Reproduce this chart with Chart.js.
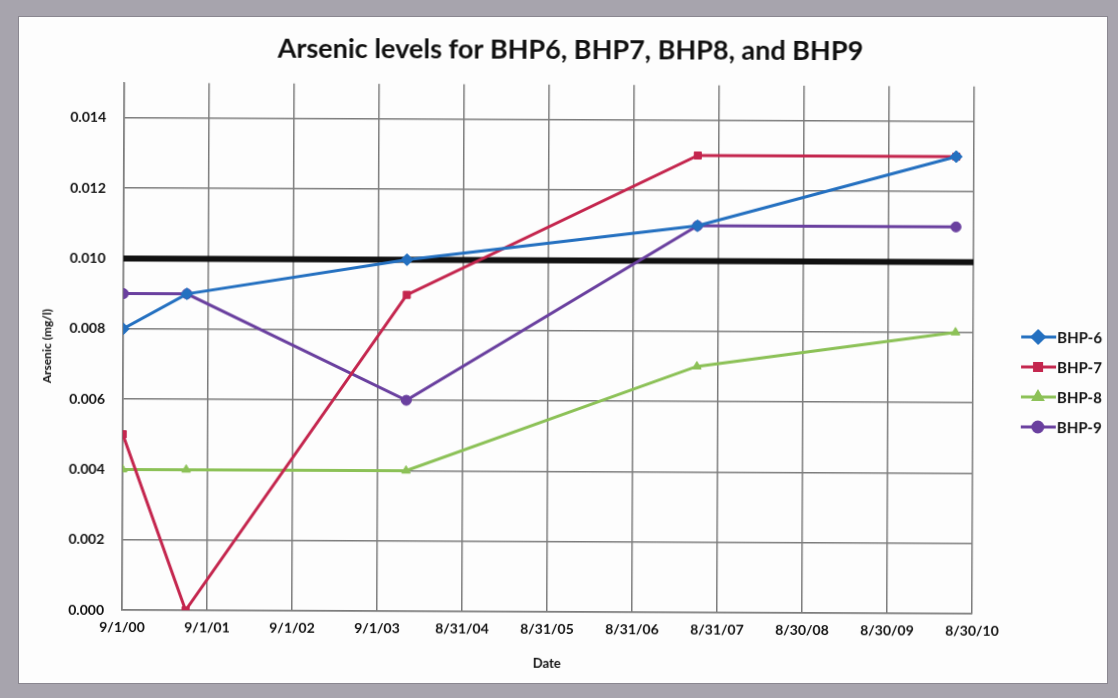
<!DOCTYPE html>
<html>
<head>
<meta charset="utf-8">
<script src="https://cdn.jsdelivr.net/npm/chart.js@4.4.1/dist/chart.umd.min.js"></script>
<style>
    html, body { margin: 0; padding: 0; }
    body {
        width: 1118px; height: 698px; overflow: hidden; position: relative;
        background: #a7a4ad;
    }
    #panel {
        position: absolute; left: 18px; top: 16px; width: 1088px; height: 666px;
        background: #fdfdfd; border: 1px solid #8a8790;
    }
    #wrap {
        position: absolute; left: 0; top: 0; width: 1118px; height: 698px;
        transform: rotate(0.25deg); transform-origin: 122px 610px;
    }
</style>
</head>
<body>
<div id="panel"></div>
<div id="wrap"><canvas id="chart"></canvas></div>
<script>
// sample dates (x) and tick labels
const sampleDates = ['2000-09-01', '2001-06-01', '2004-01-01', '2007-06-01', '2010-06-15'];
const tickLabels  = ['9/1/00', '9/1/01', '9/1/02', '9/1/03', '8/31/04', '8/31/05',
                     '8/31/06', '8/31/07', '8/30/08', '8/30/09', '8/30/10'];

// arsenic, mg/l
const bhp6 = [0.008, 0.009, 0.010, 0.011, 0.013];
const bhp7 = [0.005, 0.000, 0.009, 0.013, 0.013];
const bhp8 = [0.004, 0.004, 0.004, 0.007, 0.008];
const bhp9 = [0.009, 0.009, 0.006, 0.011, 0.011];
const mclValue = 0.010;

const FONT = 'Lato, "Open Sans", sans-serif';
const DAY = 86400000;
const start = Date.UTC(2000, 8, 1);

function toDays(s) {
    const [y, m, d] = s.split('-').map(Number);
    return Math.round((Date.UTC(y, m - 1, d) - start) / DAY);
}
const xs = sampleDates.map(toDays);
const pts = (vals) => vals.map((v, i) => ({ x: xs[i], y: v }));

function series(label, vals, color, style, radius) {
    return {
        label, data: pts(vals),
        borderColor: color, backgroundColor: color,
        borderWidth: 3, pointStyle: style, pointRadius: radius,
        pointBorderWidth: 1, pointHoverRadius: radius,
    };
}

// legend drawn at the right, Excel style (line with marker)
const sideLegend = {
    id: 'sideLegend',
    afterDraw(chart) {
        const ctx = chart.ctx;
        const items = chart.data.datasets.filter((d) => !d.hideLegend);
        ctx.save();
        items.forEach((ds, i) => {
            const y = 333 + i * 30;
            ctx.strokeStyle = ds.borderColor;
            ctx.lineWidth = 3;
            ctx.beginPath();
            ctx.moveTo(1020, y);
            ctx.lineTo(1055, y);
            ctx.stroke();
            ctx.fillStyle = ds.backgroundColor;
            Chart.helpers.drawPoint(ctx, {
                pointStyle: ds.pointStyle, radius: ds.pointRadius, rotation: 0, borderWidth: 1,
            }, 1037, y);
            ctx.fillStyle = '#111';
            ctx.font = `bold 15px ${FONT}`;
            ctx.textBaseline = 'middle';
            ctx.textAlign = 'left';
            ctx.fillText(ds.label, 1056, y + 1);
        });
        ctx.restore();
    },
};

new Chart(document.getElementById('chart'), {
    type: 'line',
    data: {
        datasets: [
            series('BHP-6', bhp6, '#2470c0', 'rectRot', 6),
            series('BHP-7', bhp7, '#c4264e', 'rect', 5),
            series('BHP-8', bhp8, '#8cc157', 'triangle', 5),
            series('BHP-9', bhp9, '#6a409f', 'circle', 5),
            {
                label: 'MCL', hideLegend: true,
                data: [{ x: 0, y: mclValue }, { x: 3650, y: mclValue }],
                borderColor: '#111', borderWidth: 6, pointRadius: 0,
            },
        ],
    },
    plugins: [sideLegend],
    options: {
        responsive: true,
        maintainAspectRatio: false,
        animation: false,
        layout: { padding: { left: 25, right: 7, top: 19, bottom: 28 } },
        plugins: {
            legend: { display: false },
            tooltip: { enabled: false },
            title: {
                display: true,
                text: 'Arsenic levels for BHP6, BHP7, BHP8, and BHP9',
                color: '#111',
                font: { family: FONT, size: 27, weight: 'bold', lineHeight: 1.1 },
                padding: { top: 14, bottom: 20 },
            },
        },
        scales: {
            x: {
                type: 'linear', min: 0, max: 3650,
                ticks: {
                    stepSize: 365, color: '#111', padding: 9,
                    font: { family: FONT, size: 14, weight: 'bold' },
                    callback: (v, i) => tickLabels[i],
                },
                grid: { color: '#7c7c7c', lineWidth: 1.5, drawTicks: false },
                border: { color: '#7c7c7c', width: 1.5 },
                title: {
                    display: true, text: 'Date', color: '#111',
                    font: { family: FONT, size: 13, weight: 'bold' },
                    padding: { top: 4, bottom: 0 },
                },
                afterFit: (s) => { s.height = 60; },
            },
            y: {
                min: 0, max: 0.015,
                ticks: {
                    stepSize: 0.002, color: '#111', padding: 18,
                    font: { family: FONT, size: 14, weight: 'bold' },
                    callback: (v) => (v > 0.0145 ? '' : v.toFixed(3)),
                },
                grid: {
                    color: (c) => (c.tick && c.tick.value > 0.0145 ? 'rgba(0,0,0,0)' : '#7c7c7c'),
                    lineWidth: 1.5, drawTicks: false,
                },
                border: { color: '#7c7c7c', width: 1.5 },
                title: {
                    display: true, text: 'Arsenic (mg/l)', color: '#111',
                    font: { family: FONT, size: 12, weight: 'bold' },
                    padding: { top: 14, bottom: 0 },
                },
                afterFit: (s) => { s.width = 97; },
            },
            y2: {
                position: 'right', min: 0, max: 1,
                ticks: { display: false },
                grid: { display: false },
                border: { display: false },
                afterFit: (s) => { s.width = 139; },
            },
        },
    },
});
</script>
</body>
</html>
